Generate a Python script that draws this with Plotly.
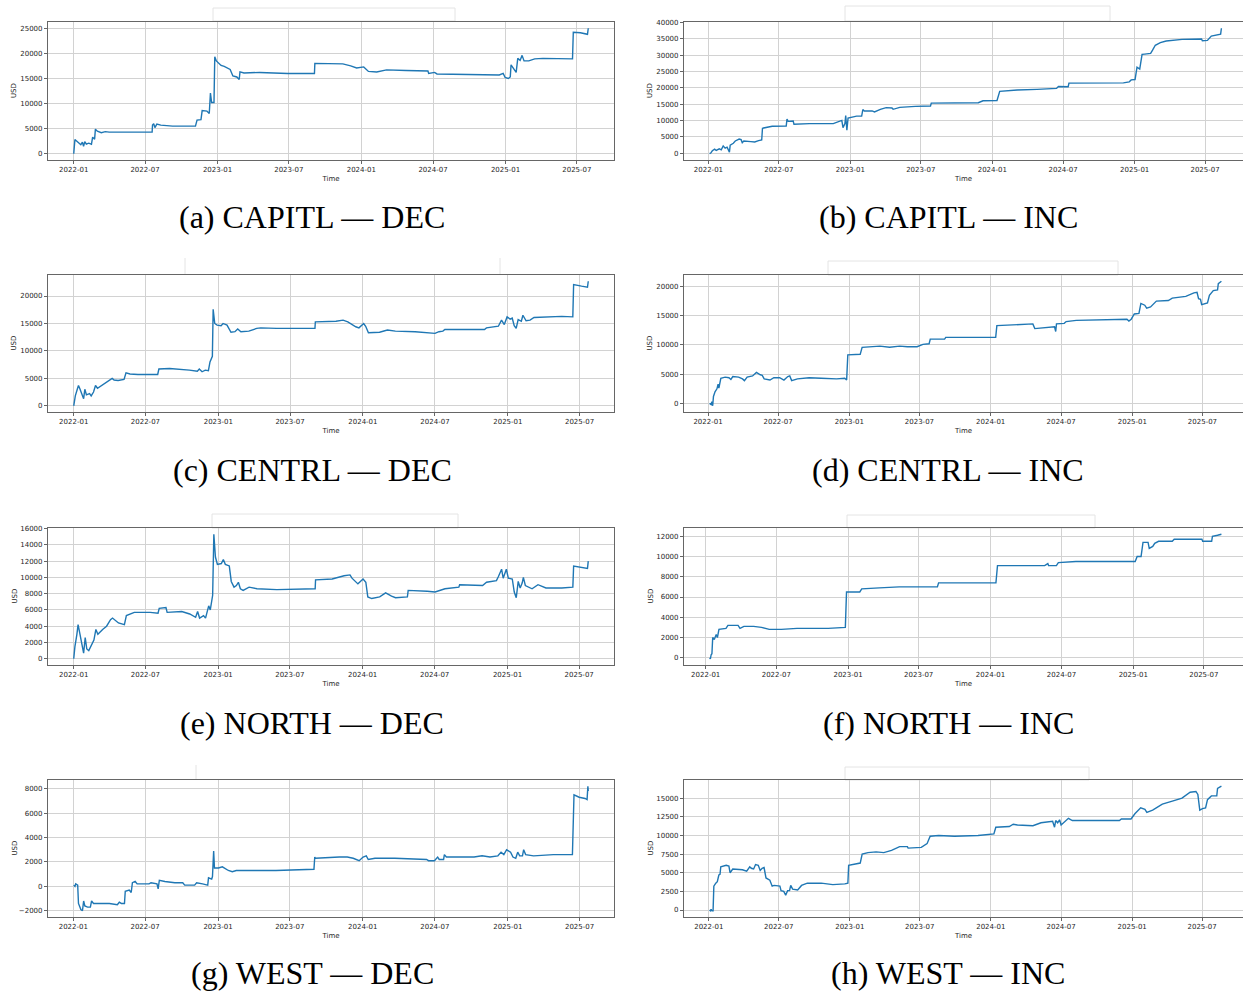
import pandas as pd
import plotly.graph_objects as go

W, H = 1243, 992
START = pd.Timestamp("2022-01-01")

# ---------------- data ----------------
x_tick_labels = ["2022-01", "2022-07", "2023-01", "2023-07",
                 "2024-01", "2024-07", "2025-01", "2025-07"]

captions = ["(a) CAPITL — DEC", "(b) CAPITL — INC",
            "(c) CENTRL — DEC", "(d) CENTRL — INC",
            "(e) NORTH — DEC", "(f) NORTH — INC",
            "(g) WEST — DEC", "(h) WEST — INC"]

# days since 2022-01-01 and cumulative USD
capitl_dec_days = [0, 3, 8, 12, 18, 22, 25, 28, 32, 38, 45, 48, 53, 55, 60, 70, 80, 90, 151, 199,
                   200, 203, 206, 211, 221, 251, 309, 313, 323, 326, 338, 344, 347, 350, 356, 358,
                   362, 374, 382, 397, 404, 414, 420, 422, 432, 472, 543, 611, 612, 683, 703, 718,
                   736, 748, 769, 794, 844, 899, 901, 916, 922, 1005, 1070, 1080, 1090, 1095, 1103,
                   1108, 1110, 1117, 1123, 1127, 1133, 1138, 1143, 1155, 1170, 1191, 1266, 1268,
                   1286, 1304, 1306]
capitl_dec_usd = [0, 2800, 2500, 2200, 1800, 2300, 1500, 2400, 1900, 2100, 1900, 3300, 2900, 4900,
                  4500, 4200, 4400, 4300, 4300, 4300, 5700, 6000, 5200, 5900, 5700, 5500, 5500, 6700,
                  6800, 8600, 8500, 8000, 12100, 10200, 10200, 19300, 18500, 17600, 17400, 16800,
                  15500, 15300, 14800, 16300, 16100, 16200, 16000, 16000, 18000, 17900, 17500, 17100,
                  17300, 16400, 16300, 16700, 16600, 16500, 16000, 16200, 15900, 15800, 15800, 15700,
                  16000, 15200, 15000, 15300, 17700, 16800, 16200, 19000, 18600, 19600, 18500, 18500,
                  18900, 19000, 18900, 24200, 24100, 23800, 25000]

capitl_inc_days = [3, 6, 10, 16, 20, 28, 33, 38, 43, 48, 54, 56, 64, 69, 79, 84, 87, 91, 109, 119,
                   129, 137, 139, 149, 164, 200, 202, 205, 218, 220, 260, 321, 336, 343, 346, 351,
                   353, 356, 359, 371, 381, 394, 397, 401, 421, 427, 442, 457, 472, 475, 492, 532,
                   571, 573, 643, 694, 706, 742, 749, 794, 845, 895, 900, 925, 927, 996, 1067, 1082,
                   1087, 1097, 1102, 1109, 1115, 1122, 1137, 1142, 1149, 1162, 1177, 1218, 1268,
                   1270, 1283, 1293, 1309, 1317, 1319]
capitl_inc_usd = [-200, 0, 700, 1200, 800, 1300, 1000, 2200, 1500, 1800, 300, 2400, 3000, 3700, 4300,
                  4100, 3200, 3700, 3500, 3400, 3800, 4000, 7600, 7900, 8200, 8300, 10400, 9700, 9800,
                  8800, 9000, 9000, 9800, 10000, 7800, 9000, 11500, 7000, 10700, 11000, 11300, 11300,
                  13300, 12900, 12900, 12600, 13400, 13900, 13800, 13400, 14000, 14300, 14400, 15300,
                  15300, 15400, 16000, 16100, 18900, 19300, 19500, 19800, 20400, 20300, 21400, 21500,
                  21500, 21800, 22400, 22500, 26300, 25700, 30200, 30300, 30500, 31500, 33000, 33800,
                  34300, 34800, 34900, 34400, 34500, 35800, 36300, 36400, 38200]

centrl_dec_days = [0, 4, 9, 12, 15, 18, 22, 25, 28, 32, 40, 44, 50, 55, 60, 72, 87, 97, 102, 112, 127,
                   132, 142, 162, 212, 215, 242, 262, 292, 312, 317, 324, 332, 340, 344, 350, 352,
                   356, 362, 372, 377, 387, 397, 407, 414, 422, 442, 462, 472, 512, 609, 610, 662,
                   680, 692, 712, 720, 732, 737, 744, 772, 792, 812, 862, 892, 912, 922, 932, 937,
                   1012, 1037, 1042, 1072, 1080, 1087, 1094, 1102, 1107, 1112, 1117, 1122, 1130,
                   1134, 1142, 1152, 1162, 1192, 1232, 1260, 1262, 1282, 1297, 1299]
centrl_dec_usd = [0, 1800, 3000, 3700, 3200, 2500, 2000, 1300, 3000, 2000, 2200, 1800, 2500, 3700, 3200,
                  3800, 4500, 5000, 4700, 4600, 4800, 6000, 5800, 5700, 5700, 6700, 6800, 6700, 6500,
                  6300, 6700, 6200, 6500, 6400, 8000, 9000, 17600, 15000, 14700, 14600, 15000, 14700,
                  13400, 13500, 14000, 13500, 13600, 14100, 14200, 14100, 14100, 15300, 15400, 15600,
                  15300, 14400, 14200, 15000, 14500, 13300, 13400, 13800, 13600, 13500, 13300, 13200,
                  13500, 13600, 13900, 13800, 13900, 14200, 14500, 15600, 14800, 16200, 15800, 16000,
                  14600, 14100, 15700, 15400, 16500, 15500, 15600, 16100, 16200, 16300, 16200, 22100,
                  21800, 21600, 22700]

centrl_inc_days = [4, 8, 10, 12, 14, 18, 23, 26, 28, 33, 44, 54, 59, 64, 79, 89, 94, 101, 115, 125,
                   135, 140, 145, 160, 170, 185, 196, 201, 206, 211, 216, 231, 261, 292, 332, 353,
                   358, 361, 393, 398, 444, 469, 495, 515, 540, 555, 571, 574, 611, 614, 697, 743,
                   746, 799, 839, 844, 870, 895, 898, 900, 920, 925, 951, 1001, 1082, 1087, 1093,
                   1101, 1113, 1118, 1128, 1133, 1143, 1158, 1189, 1199, 1234, 1255, 1263, 1267,
                   1272, 1275, 1290, 1295, 1305, 1316, 1318, 1326]
centrl_inc_usd = [0, -200, 300, -400, 1200, 2000, 2500, 3300, 2600, 4300, 4500, 4400, 4100, 4600, 4500,
                  4200, 3900, 4500, 4700, 5300, 4900, 4800, 4200, 4000, 4400, 4400, 4000, 4300, 4600,
                  4700, 3900, 4200, 4400, 4300, 4200, 4300, 4000, 8300, 8400, 9600, 9800, 9600, 9800,
                  9700, 9700, 10100, 10200, 11000, 11000, 11300, 11300, 11300, 13300, 13400, 13600,
                  12800, 13000, 13100, 12300, 13600, 13700, 14000, 14200, 14300, 14400, 14100, 14400,
                  15300, 15400, 17100, 16800, 16300, 16500, 17500, 17600, 18000, 18300, 18900, 19000,
                  17900, 17800, 16900, 17200, 18500, 19300, 19400, 20500, 20900]

north_dec_days = [0, 3, 8, 11, 15, 18, 21, 25, 29, 33, 38, 45, 51, 56, 61, 73, 83, 93, 98, 113, 128,
                  133, 153, 193, 213, 216, 233, 236, 273, 293, 308, 313, 318, 328, 333, 341, 345, 351,
                  354, 358, 363, 373, 378, 383, 393, 398, 405, 411, 416, 421, 428, 443, 463, 513, 610,
                  611, 653, 683, 698, 703, 718, 731, 738, 743, 753, 773, 788, 803, 813, 843, 845, 893,
                  913, 938, 973, 975, 1033, 1043, 1068, 1073, 1081, 1085, 1093, 1098, 1108, 1113,
                  1118, 1123, 1128, 1133, 1136, 1141, 1158, 1173, 1193, 1233, 1261, 1263, 1288,
                  1298, 1300]
north_dec_usd = [0, 1500, 3000, 4200, 3200, 2500, 1800, 700, 2600, 1200, 1000, 1700, 2300, 3600, 3000,
                 3600, 4000, 4800, 5000, 4400, 4200, 5300, 5700, 5700, 5600, 6200, 6300, 5700, 5800,
                 5500, 5100, 5800, 5000, 5300, 5000, 6500, 6000, 7800, 15300, 12500, 11600, 11700,
                 12200, 11600, 11400, 9500, 8800, 9000, 9400, 8600, 8400, 8800, 8600, 8500, 8600, 9700,
                 9800, 10200, 10300, 9900, 9200, 9800, 9400, 7600, 7400, 7600, 8100, 7700, 7500, 7600,
                 8400, 8300, 8200, 8600, 8800, 9100, 9000, 9400, 9600, 10100, 11000, 9900, 11000, 9900,
                 9800, 8200, 7500, 9500, 8700, 9300, 10000, 9000, 8600, 9100, 8700, 8700, 8800, 11400,
                 11200, 11100, 12000]

north_inc_days = [10, 12, 14, 16, 18, 22, 27, 30, 34, 52, 57, 83, 88, 98, 123, 143, 163, 194, 234, 314,
                  358, 361, 395, 400, 445, 496, 594, 597, 697, 744, 748, 798, 869, 877, 879, 899, 904,
                  949, 1000, 1101, 1106, 1116, 1121, 1134, 1137, 1146, 1151, 1161, 1196, 1201, 1272,
                  1274, 1297, 1299, 1312, 1322]
north_inc_usd = [0, -100, 300, 400, 2000, 1800, 2300, 2000, 2800, 2900, 3200, 3200, 2900, 3100, 3100,
                 3000, 2800, 2800, 2900, 2900, 3000, 6500, 6500, 6800, 6900, 7000, 7000, 7400, 7400, 7400,
                 9100, 9100, 9100, 9300, 9100, 9100, 9400, 9500, 9500, 9500, 10000, 10000, 11400, 11400,
                 10800, 11000, 11300, 11500, 11500, 11700, 11700, 11500, 11500, 12000, 12100, 12200]

west_dec_days = [1, 4, 6, 9, 11, 13, 16, 19, 23, 26, 29, 36, 43, 46, 51, 71, 91, 111, 116, 121, 129,
                 131, 141, 146, 149, 156, 161, 171, 191, 196, 211, 214, 217, 231, 256, 276, 281, 306,
                 311, 326, 339, 341, 349, 351, 354, 356, 366, 376, 391, 401, 411, 511, 607, 609, 611,
                 671, 691, 706, 721, 731, 739, 744, 761, 811, 891, 896, 911, 919, 923, 934, 936, 941,
                 1011, 1031, 1051, 1071, 1079, 1086, 1093, 1103, 1109, 1116, 1121, 1126, 1133, 1136,
                 1141, 1161, 1211, 1259, 1261, 1263, 1276, 1291, 1296, 1298, 1299]
west_dec_usd = [100, 0, 200, 100, 100, -1400, -1700, -1900, -2000, -1200, -1600, -1700, -1700, -1200,
                -1400, -1400, -1400, -1500, -1300, -1400, -1400, -400, -300, -500, 300, 400, 200, 200,
                200, 300, 200, -200, 500, 400, 300, 300, 100, 100, 300, 200, 100, 700, 600, 800, 2900,
                1500, 1500, 1600, 1300, 1200, 1300, 1300, 1400, 2400, 2300, 2400, 2400, 2300, 2100,
                2400, 2500, 2200, 2300, 2300, 2200, 2100, 2100, 2400, 2200, 2200, 2600, 2400, 2400,
                2500, 2400, 2500, 2800, 2600, 3000, 2800, 2400, 2300, 2800, 2500, 2500, 3000, 2600,
                2500, 2600, 2600, 6400, 7500, 7300, 7200, 7100, 8200, 7800]

west_inc_days = [2, 4, 6, 8, 11, 13, 18, 22, 26, 29, 31, 37, 45, 52, 55, 62, 77, 87, 98, 106, 110, 116,
                 121, 128, 133, 138, 143, 148, 158, 164, 169, 184, 187, 194, 199, 204, 209, 212, 217,
                 230, 240, 255, 291, 316, 321, 352, 360, 362, 382, 392, 397, 412, 433, 453, 473, 494,
                 514, 516, 550, 565, 573, 595, 636, 697, 738, 743, 778, 788, 799, 839, 860, 890, 895,
                 898, 903, 908, 912, 926, 931, 941, 992, 1063, 1068, 1093, 1103, 1118, 1129, 1134,
                 1149, 1174, 1200, 1225, 1246, 1261, 1266, 1271, 1278, 1286, 1291, 1301, 1315, 1317,
                 1327]
west_inc_usd = [0, -100, 100, -100, -100, 3200, 3600, 3800, 4700, 4800, 5800, 5900, 6000, 5900, 5000,
                5500, 5500, 5400, 5200, 5800, 5600, 5500, 6100, 6000, 5300, 5600, 5700, 4300, 4000, 3200,
                3300, 3200, 2600, 2500, 2000, 2600, 2600, 3300, 2800, 2700, 3300, 3600, 3600, 3500, 3400,
                3500, 3600, 6000, 6200, 6300, 7500, 7700, 7800, 7700, 8000, 8500, 8500, 8300, 8400,
                8900, 9900, 10000, 9900, 10000, 10200, 11100, 11200, 11500, 11400, 11300, 11700, 11900,
                11100, 12000, 11700, 12100, 11400, 12100, 12300, 12000, 12000, 12000, 12200, 12200,
                12900, 13700, 13500, 13100, 13400, 14200, 14600, 15000, 15800, 15900, 15500, 13400,
                13600, 13700, 14800, 15300, 15300, 16300, 16600]

series = [
    (capitl_dec_days, capitl_dec_usd, 5000),
    (capitl_inc_days, capitl_inc_usd, 5000),
    (centrl_dec_days, centrl_dec_usd, 5000),
    (centrl_inc_days, centrl_inc_usd, 5000),
    (north_dec_days, north_dec_usd, 2000),
    (north_inc_days, north_inc_usd, 2000),
    (west_dec_days, west_dec_usd, 2000),
    (west_inc_days, west_inc_usd, 2500),
]

# ---------------- layout (pixels) ----------------
col_x = [(48, 614), (684, 1247)]           # right column runs past the page edge
row_y = [(22, 160), (275, 412), (528, 665), (780, 917)]
caption_y = [217, 470, 723, 973]
caption_x = [312, 948]
usd_x = [14, 650]


def px_x(p):
    return p / W


def px_y(p):
    return 1 - p / H


def to_date(d):
    return START + pd.to_timedelta(d, unit="D")


fig = go.Figure()
FRAME = "#666666"
GRID = "#d2d2d2"
TICKFONT = dict(family="DejaVu Sans", size=7, color="#262626")

layout = dict(width=W, height=H, margin=dict(l=0, r=0, t=0, b=0),
              paper_bgcolor="white", plot_bgcolor="white", showlegend=False)

tick_dates = [pd.Timestamp(t + "-01") for t in x_tick_labels]
annotations = []

for i, (days, usd, step) in enumerate(series):
    r, c = divmod(i, 2)
    n = "" if i == 0 else str(i + 1)
    x0p, x1p = col_x[c]
    y0p, y1p = row_y[r]
    dmin, dmax = min(days), max(days)
    dpad = 0.05 * (dmax - dmin)
    full0, full1 = dmin - dpad, dmax + dpad
    if c == 1:
        # clip the axis to the visible part of the page
        frac = (W - x0p) / (x1p - x0p)
        vis1 = full0 + (full1 - full0) * frac
        dom = [px_x(x0p), 1.0]
    else:
        vis1 = full1
        dom = [px_x(x0p), px_x(x1p)]
    vmin, vmax = min(usd), max(usd)
    vpad = 0.05 * (vmax - vmin)

    fig.add_trace(go.Scatter(
        x=[to_date(d) for d in days], y=usd, mode="lines",
        line=dict(color="#1f77b4", width=1.4),
        xaxis="x" + n, yaxis="y" + n, hoverinfo="skip"))

    layout["xaxis" + n] = dict(
        domain=dom, anchor="y" + n, type="date",
        range=[to_date(full0), to_date(vis1)],
        tickvals=tick_dates, ticktext=x_tick_labels,
        showgrid=True, gridcolor=GRID, gridwidth=1,
        showline=True, mirror=True, linecolor=FRAME, linewidth=1.2,
        ticks="outside", ticklen=3, tickcolor=FRAME, tickfont=TICKFONT,
        ticklabelstandoff=-1,
        title=dict(text="Time", font=TICKFONT, standoff=3),
        zeroline=False, automargin=False)
    layout["yaxis" + n] = dict(
        domain=[px_y(y1p), px_y(y0p)], anchor="x" + n,
        range=[vmin - vpad, vmax + vpad],
        dtick=step, tick0=0, tickformat="d",
        showgrid=True, gridcolor=GRID, gridwidth=1,
        showline=True, mirror=(c == 0), linecolor=FRAME, linewidth=1.2,
        ticks="outside", ticklen=3, tickcolor=FRAME, tickfont=TICKFONT,
        zeroline=False, automargin=False)
    annotations.append(dict(
        text="USD", xref="paper", yref="paper", textangle=-90,
        x=px_x(usd_x[c]), y=px_y((y0p + y1p) / 2),
        xanchor="center", yanchor="middle", showarrow=False, font=TICKFONT))

for i, txt in enumerate(captions):
    r, c = divmod(i, 2)
    annotations.append(dict(
        text=txt, xref="paper", yref="paper",
        x=px_x(caption_x[c]), y=px_y(caption_y[r]),
        xanchor="center", yanchor="middle", showarrow=False,
        font=dict(family="Liberation Serif", size=32, color="black")))
layout["annotations"] = annotations

# faint remnants of cropped boxes above the panels
boxes = [(213, 8, 455, 21), (845, 6, 1110, 21), (828, 261, 1118, 275),
         (212, 514, 458, 528), (847, 515, 1095, 528), (845, 767, 1089, 780)]
vlines = [(185, 258, 275), (500, 258, 275), (196, 765, 780)]
shapes = []
for bx0, by0, bx1, by1 in boxes:
    shapes.append(dict(type="rect", xref="paper", yref="paper",
                       x0=px_x(bx0), x1=px_x(bx1), y0=px_y(by1), y1=px_y(by0),
                       line=dict(color="#e4e4e4", width=1), fillcolor="rgba(0,0,0,0)", layer="below"))
for vx, vy0, vy1 in vlines:
    shapes.append(dict(type="line", xref="paper", yref="paper",
                       x0=px_x(vx), x1=px_x(vx), y0=px_y(vy1), y1=px_y(vy0),
                       line=dict(color="#e4e4e4", width=1), layer="below"))
layout["shapes"] = shapes

fig.update_layout(**layout)
fig.write_html("out.html",
               config={"displayModeBar": False},
               post_script="document.body.style.margin='0px';"
                           "document.body.style.padding='0px';"
                           "document.body.style.overflow='hidden';")
